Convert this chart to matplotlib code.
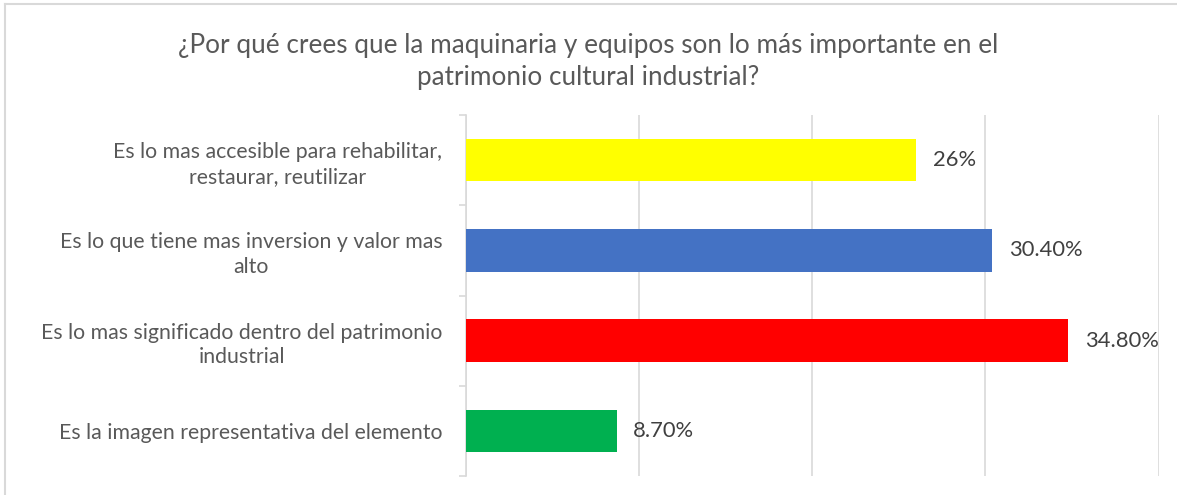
import matplotlib
matplotlib.use("Agg")
import matplotlib.pyplot as plt
from matplotlib.lines import Line2D

categories = [
    "Es lo mas accesible para rehabilitar,\nrestaurar, reutilizar",
    "Es lo que tiene mas inversion y valor mas\nalto",
    "Es lo mas significado dentro del patrimonio\nindustrial",
    "Es la imagen representativa del elemento",
]
values = [26.0, 30.4, 34.8, 8.7]
value_labels = ["26%", "30.40%", "34.80%", "8.70%"]
colors = ["#FFFF00", "#4472C4", "#FF0000", "#00B050"]
title = "¿Por qué crees que la maquinaria y equipos son lo más importante en el\npatrimonio cultural industrial?"

plt.rcParams['font.family'] = ['Lato', 'DejaVu Sans']

W, H = 1177, 495
fig = plt.figure(figsize=(W / 100, H / 100), dpi=100)

left, right, top, bottom = 466, 1158.5, 115, 476
ax = fig.add_axes([left / W, 1 - bottom / H, (right - left) / W, (bottom - top) / H])

ypos = list(range(len(categories)))
ax.barh(ypos, values, height=0.47, color=colors, zorder=3)
ax.set_ylim(len(categories) - 0.5, -0.5)
ax.set_xlim(0, 40)
ax.set_xticks([0, 10, 20, 30, 40])
ax.xaxis.grid(True, color="#D9D9D9", linewidth=1.2, zorder=0)
ax.tick_params(axis="x", length=0, labelbottom=False)

ax.set_yticks(ypos)
ax.set_yticklabels(categories, multialignment="center", fontsize=15.3, color="#595959",
                   linespacing=1.28)
ax.tick_params(axis="y", length=0, pad=17)
ax.set_yticks([-0.5, 0.5, 1.5, 2.5, 3.5], minor=True)
ax.tick_params(axis="y", which="minor", length=5, color="#D9D9D9", width=1.2)

for s in ["top", "right", "bottom"]:
    ax.spines[s].set_visible(False)
ax.spines["left"].set_color("#D9D9D9")
ax.spines["left"].set_linewidth(1.2)

for y, v, lab in zip(ypos, values, value_labels):
    ax.annotate(lab, xy=(v, y), xytext=(12, 0), textcoords="offset points",
                va="center", ha="left", fontsize=15.8, color="#404040")

fig.text(0.5, 1 - 61.5 / H, title, ha="center", va="center", fontsize=18.8,
         color="#595959", linespacing=1.4)

fig.add_artist(Line2D([5 / W, 1.0], [1 - 4 / H, 1 - 4 / H], transform=fig.transFigure,
                      color="#D9D9D9", linewidth=1.5))
fig.add_artist(Line2D([5 / W, 5 / W], [0, 1 - 4 / H], transform=fig.transFigure,
                      color="#D9D9D9", linewidth=1.5))

fig.savefig("out.png", dpi=100)
